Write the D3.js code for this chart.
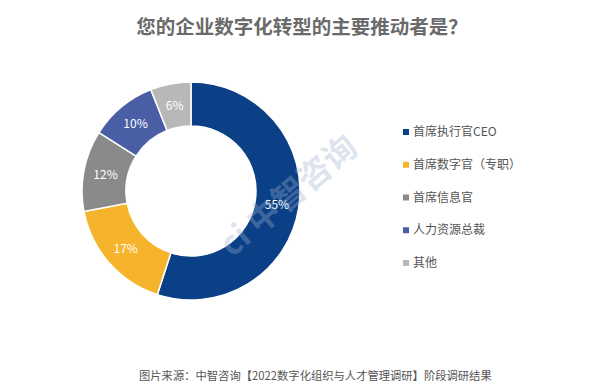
<!DOCTYPE html>
<html>
<head>
<meta charset="utf-8">
<script src="https://cdn.jsdelivr.net/npm/d3@7"></script>
<style>
  body { margin: 0; background: #fff; }
  text { font-family: "Noto Sans CJK SC", "Noto Sans", sans-serif; }
</style>
</head>
<body>
<svg id="chart" width="600" height="389"></svg>
<script>
const categories = ['首席执行官CEO', '首席数字官（专职）', '首席信息官', '人力资源总裁', '其他'];
const values = [55, 17, 12, 10, 6];
const colors = ['#0b3f86', '#f6b42c', '#8a8a8a', '#4a5ea6', '#b8b8b8'];

const svg = d3.select('#chart');
const cx = 191, cy = 191;
const outerR = 109, innerR = 65;

svg.append('text')
  .attr('x', 302).attr('y', 34)
  .attr('text-anchor', 'middle')
  .attr('font-size', 19.5).attr('font-weight', 'bold')
  .attr('fill', '#6a6a6a')
  .text('您的企业数字化转型的主要推动者是？');

const pie = d3.pie().sort(null).value(d => d)(values);
const arc = d3.arc().innerRadius(innerR).outerRadius(outerR);
const labelArc = d3.arc().innerRadius(87).outerRadius(87);

const g = svg.append('g').attr('transform', `translate(${cx},${cy})`);
g.selectAll('path')
  .data(pie)
  .enter().append('path')
  .attr('d', arc)
  .attr('fill', (d, i) => colors[i])
  .attr('stroke', '#fff')
  .attr('stroke-width', 1.5);

g.selectAll('text.lbl')
  .data(pie)
  .enter().append('text')
  .attr('class', 'lbl')
  .attr('transform', d => `translate(${labelArc.centroid(d)})`)
  .attr('text-anchor', 'middle')
  .attr('dy', '0.35em')
  .attr('font-size', 12)
  .attr('fill', '#fff')
  .text(d => d.data + '%');

// watermark
svg.append('text')
  .attr('transform', 'translate(232,258) rotate(-40)')
  .attr('font-size', 33).attr('font-weight', 'bold')
  .attr('fill', '#9fb3cf').attr('fill-opacity', 0.35)
  .text('ci 中智咨询');

const legend = svg.append('g');
const y = d3.scalePoint().domain(categories).range([132, 263]);
const item = legend.selectAll('g')
  .data(categories)
  .enter().append('g')
  .attr('transform', d => `translate(403,${y(d)})`);
item.append('rect')
  .attr('x', 0).attr('y', -3)
  .attr('width', 6).attr('height', 6)
  .attr('fill', (d, i) => colors[i]);
item.append('text')
  .attr('x', 10).attr('dy', '0.35em')
  .attr('font-size', 12).attr('fill', '#555')
  .text(d => d);

svg.append('text')
  .attr('x', 139).attr('y', 380)
  .attr('font-size', 11.3).attr('fill', '#555')
  .text('图片来源：中智咨询【2022数字化组织与人才管理调研】阶段调研结果');
</script>
</body>
</html>
